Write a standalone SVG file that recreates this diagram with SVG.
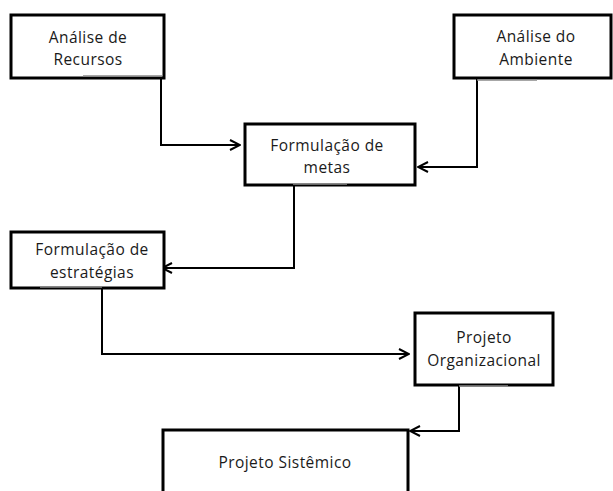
<svg xmlns="http://www.w3.org/2000/svg" width="613" height="491" viewBox="0 0 613 491">
<style>
.box{fill:#fff;stroke:#000;stroke-width:3}
.lbl{font-family:"Open Sans","Liberation Sans",sans-serif;font-size:15.5px;letter-spacing:0.45px;fill:#1a1a1a;text-anchor:middle}
.conn{fill:none;stroke:#000;stroke-width:2}
.ul{stroke:#8a8a8a;stroke-width:1.5}
</style>
<defs>
<marker id="arr" viewBox="0 0 12 12" refX="11" refY="6" markerWidth="12" markerHeight="12" markerUnits="userSpaceOnUse" orient="auto">
<path d="M1,1 L11,6 L1,11" fill="none" stroke="#000" stroke-width="2"/>
</marker>
</defs>
<rect width="613" height="491" fill="#fff"/>
<g id="connectors">
<path class="conn" d="M161,79 V145 H240" marker-end="url(#arr)"/>
<path class="conn" d="M477,79 V167 H418" marker-end="url(#arr)"/>
<path class="conn" d="M294,186 V268 H162" marker-end="url(#arr)"/>
<path class="conn" d="M102,288 V354 H409" marker-end="url(#arr)"/>
<path class="conn" d="M459,385 V431 H410" marker-end="url(#arr)"/>
</g>
<g id="analise-recursos">
<rect class="box" x="11" y="15" width="153" height="63"/>
<line class="ul" x1="83" y1="76" x2="162" y2="76"/>
<text class="lbl" x="88" y="43">Análise de</text>
<text class="lbl" x="88" y="65">Recursos</text>
</g>
<g id="analise-ambiente">
<rect class="box" x="454" y="15" width="157" height="63"/>
<line class="ul" x1="477" y1="80" x2="537" y2="80"/>
<text class="lbl" x="536" y="42">Análise do</text>
<text class="lbl" x="536" y="65">Ambiente</text>
</g>
<g id="formulacao-metas">
<rect class="box" x="245" y="124" width="170" height="61"/>
<line class="ul" x1="293" y1="184" x2="347" y2="184"/>
<text class="lbl" x="327" y="151">Formulação de</text>
<text class="lbl" x="327" y="173">metas</text>
</g>
<g id="formulacao-estrategias">
<rect class="box" x="11" y="232" width="153" height="56"/>
<line class="ul" x1="40" y1="287" x2="102" y2="287"/>
<text class="lbl" x="92" y="255">Formulação de</text>
<text class="lbl" x="92" y="278">estratégias</text>
</g>
<g id="projeto-organizacional">
<rect class="box" x="415" y="313" width="138" height="72"/>
<line class="ul" x1="459" y1="386" x2="508" y2="386"/>
<text class="lbl" x="484" y="343">Projeto</text>
<text class="lbl" x="484" y="366">Organizacional</text>
</g>
<g id="projeto-sistemico">
<rect class="box" x="163" y="430" width="245" height="70"/>
<text class="lbl" x="285" y="468">Projeto Sistêmico</text>
</g>
</svg>
